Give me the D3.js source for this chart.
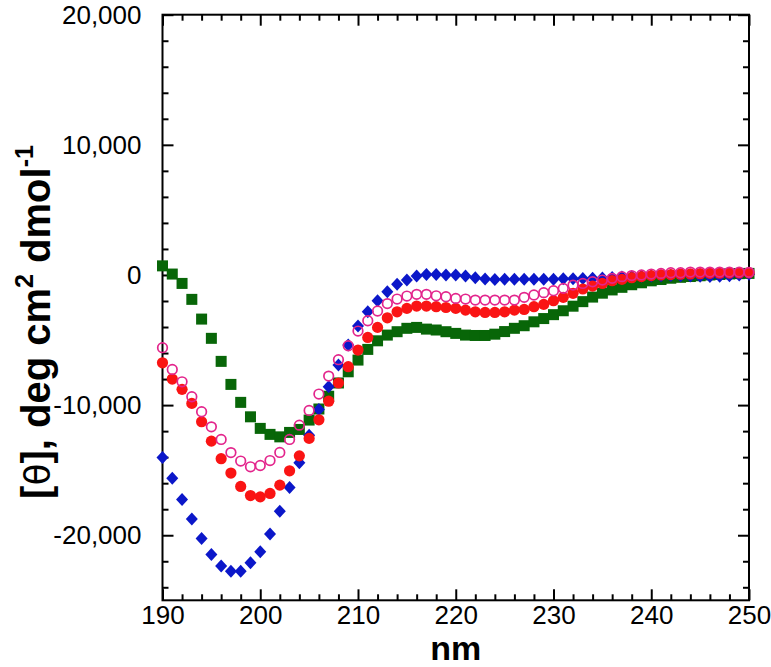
<!DOCTYPE html>
<html><head><meta charset="utf-8">
<script src="https://cdn.jsdelivr.net/npm/d3@7"></script>
<style>body{margin:0;background:#fff}svg{display:block}</style>
</head><body>
<svg id="c" width="771" height="667"></svg>
<script>
const wavelengths = d3.range(190, 251);
const blueDiamonds = [-14020,-15630,-17250,-18760,-20250,-21480,-22370,-22760,-22760,-22120,
 -21270,-19910,-18150,-16330,-14430,-12310,-10330,-8590,-6920,-5390,
 -3930,-2830,-1980,-1290,-720,-390,-85,45,45,0,
 0,-80,-210,-310,-340,-320,-330,-330,-330,-320,
 -320,-300,-300,-280,-260,-230,-200,-160,-130,-100,
 -80,-60,-50,-60,-80,-100,-120,-100,-60,0,60];
const redFilled = [-6750,-8000,-8790,-9870,-11280,-12770,-14120,-15220,-16250,-16950,
 -17050,-16790,-16150,-15050,-13900,-12560,-11130,-9700,-8300,-7050,
 -5770,-4800,-4030,-3290,-2830,-2570,-2390,-2390,-2440,-2500,
 -2570,-2700,-2830,-2880,-2880,-2830,-2700,-2650,-2440,-2260,
 -1980,-1720,-1410,-1080,-850,-650,-440,-340,-210,-130,
 -50,0,30,60,80,100,120,130,140,150,160];
const magentaOpen = [-5590,-7260,-8210,-9360,-10510,-11670,-12640,-13650,-14300,-14740,
 -14640,-14260,-13640,-12640,-11540,-10410,-9150,-7770,-6510,-5440,
 -4310,-3520,-2770,-2200,-1850,-1620,-1490,-1490,-1600,-1670,
 -1800,-1850,-1930,-1930,-1930,-1930,-1930,-1720,-1540,-1360,
 -1210,-1030,-780,-650,-520,-390,-260,-130,-50,0,
 70,120,170,170,220,220,220,220,220,220,200];
const greenSquares = [700,70,-650,-1875,-3390,-4870,-6640,-8410,-9790,-10900,
 -11790,-12250,-12440,-12100,-11870,-11150,-10300,-9320,-8300,-7440,
 -6540,-5720,-5060,-4620,-4360,-4100,-4030,-4160,-4230,-4360,
 -4490,-4620,-4650,-4650,-4550,-4350,-4100,-3900,-3600,-3350,
 -3050,-2750,-2400,-2050,-1700,-1400,-1150,-950,-750,-600,
 -450,-350,-250,-180,-120,-60,0,40,80,100,120];
const xTicks = [190,200,210,220,230,240,250];
const yTicks = [-20000,-10000,0,10000,20000];

const svg = d3.select('#c');
const L = 162.5, R = 749, T = 14.7, B = 600.3;
const x = d3.scaleLinear().domain([190,250]).range([L,R]);
const y = d3.scaleLinear().domain([-25000,20000]).range([B,T]);

const fmt = v => d3.format(',')(v).replace('\u2212','-');
const font = "'Liberation Sans', Arial, Helvetica, sans-serif";
const minorX = d3.range(190,251,2).filter(v=>v%10!==0);
const minorY = d3.range(-24000,20001,2000).filter(v=>v%10000!==0);
const MAJ = 11, MIN = 6;

function styleAxis(g){
  g.select('.domain').remove();
  g.selectAll('line').attr('stroke','#000').attr('stroke-width',2);
  g.selectAll('text').attr('font-family',font).attr('font-size',26).attr('fill','#000');
}
// bottom
svg.append('g').attr('transform',`translate(0,${B})`)
  .call(d3.axisBottom(x).tickValues(xTicks).tickSize(-MAJ).tickPadding(5).tickFormat(d3.format('d')))
  .call(styleAxis);
svg.append('g').attr('transform',`translate(0,${B})`)
  .call(d3.axisBottom(x).tickValues(minorX).tickSize(-MIN).tickFormat(''))
  .call(styleAxis);
// top
svg.append('g').attr('transform',`translate(0,${T})`)
  .call(d3.axisTop(x).tickValues(xTicks).tickSize(-MAJ).tickFormat(''))
  .call(styleAxis);
svg.append('g').attr('transform',`translate(0,${T})`)
  .call(d3.axisTop(x).tickValues(minorX).tickSize(-MIN).tickFormat(''))
  .call(styleAxis);
// left
svg.append('g').attr('transform',`translate(${L},0)`)
  .call(d3.axisLeft(y).tickValues(yTicks).tickSize(-MAJ).tickPadding(21).tickFormat(fmt))
  .call(styleAxis);
svg.append('g').attr('transform',`translate(${L},0)`)
  .call(d3.axisLeft(y).tickValues(minorY).tickSize(-MIN).tickFormat(''))
  .call(styleAxis);
// right
svg.append('g').attr('transform',`translate(${R},0)`)
  .call(d3.axisRight(y).tickValues(yTicks).tickSize(-MAJ).tickFormat(''))
  .call(styleAxis);
svg.append('g').attr('transform',`translate(${R},0)`)
  .call(d3.axisRight(y).tickValues(minorY).tickSize(-MIN).tickFormat(''))
  .call(styleAxis);

svg.append('rect').attr('x',L).attr('y',T).attr('width',R-L).attr('height',B-T)
  .attr('fill','none').attr('stroke','#000').attr('stroke-width',2);

const plot = svg.append('g');
// green squares
plot.selectAll('.sq').data(wavelengths).join('rect')
  .attr('x',(d,i)=>x(d)-5.5).attr('y',(d,i)=>y(greenSquares[i])-5.5)
  .attr('width',11).attr('height',11).attr('fill','#086608');
// blue diamonds
plot.selectAll('.dm').data(wavelengths).join('path')
  .attr('d',(d,i)=>{const cx=x(d), cy=y(blueDiamonds[i]); return `M${cx},${cy-6.5}L${cx+6},${cy}L${cx},${cy+6.5}L${cx-6},${cy}Z`;})
  .attr('fill','#0b17c9');
// red filled circles
plot.selectAll('.rc').data(wavelengths).join('circle')
  .attr('cx',d=>x(d)).attr('cy',(d,i)=>y(redFilled[i])).attr('r',5.6).attr('fill','#fa1414');
// magenta open circles
plot.selectAll('.oc').data(wavelengths).join('circle')
  .attr('cx',d=>x(d)).attr('cy',(d,i)=>y(magentaOpen[i])).attr('r',4.8)
  .attr('fill','none').attr('stroke','#e3258c').attr('stroke-width',1.7);

// axis titles
svg.append('text').attr('x',(L+R)/2).attr('y',660).attr('text-anchor','middle')
  .attr('font-family',font).attr('font-weight','bold').attr('font-size',34).text('nm');

const yt = svg.append('text').attr('transform','translate(50,322) rotate(-90)')
  .attr('text-anchor','middle').attr('font-family',font).attr('font-weight','bold').attr('font-size',40);
yt.append('tspan').text('[');
yt.append('tspan').attr('font-weight','normal').attr('font-family',"'DejaVu Sans', sans-serif").attr('font-size',36).text('θ');
yt.append('tspan').text('], deg cm');
yt.append('tspan').attr('font-size',25).attr('dy',-17).text('2');
yt.append('tspan').attr('dy',17).text(' dmol');
yt.append('tspan').attr('font-size',25).attr('dy',-17).text('-1');
</script>
</body></html>
